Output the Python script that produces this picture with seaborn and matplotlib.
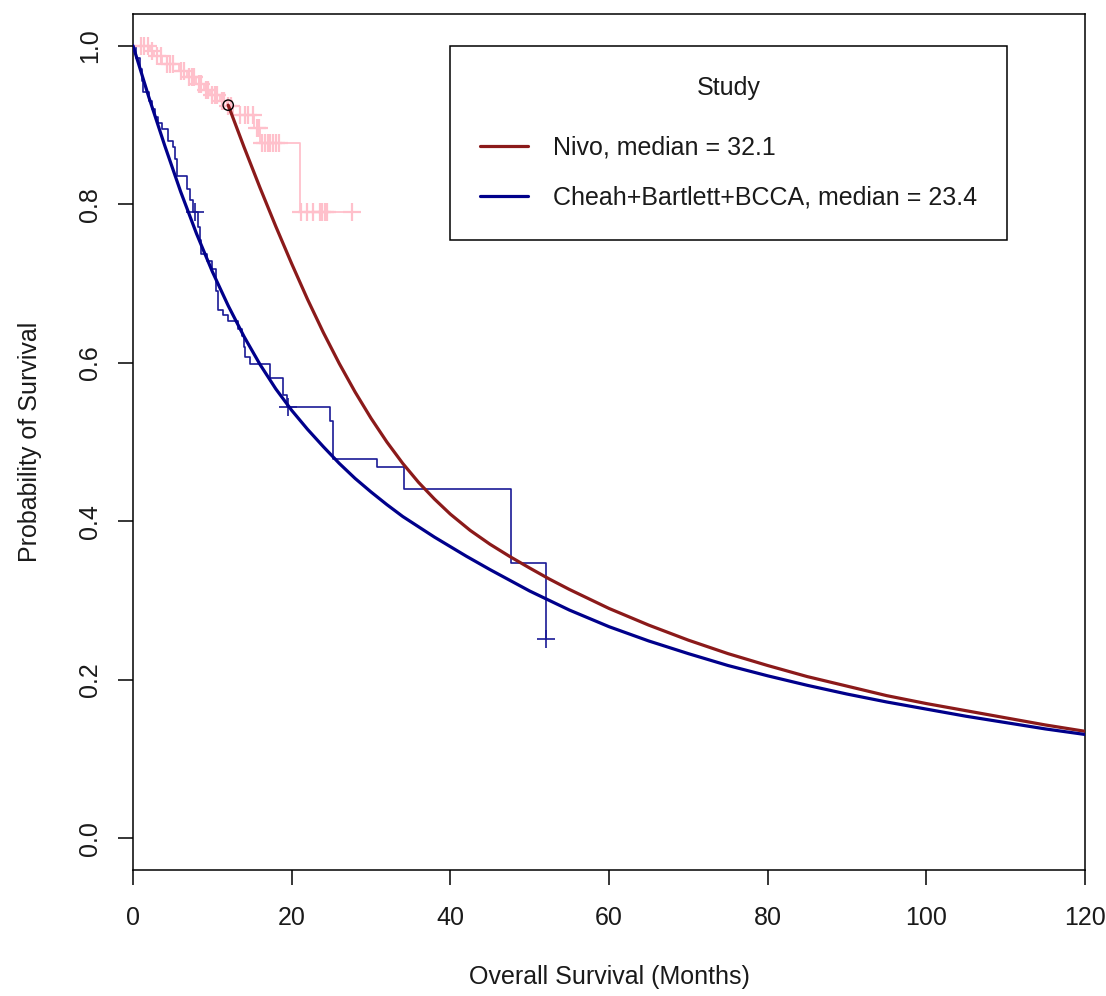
import matplotlib
matplotlib.use("Agg")
import matplotlib.pyplot as plt
import seaborn as sns
import pandas as pd

# ---------------- data ----------------
# Parametric fit, Nivo (starts at landmark month 12)
nivo_fit_t = [12, 14, 16, 18, 20, 22, 24, 26, 28, 30, 32, 34, 36, 38, 40, 42.5, 45, 47.5, 50, 52.5, 55, 57.5,
              60, 65, 70, 75, 80, 85, 90, 95, 100, 105, 110, 115, 120]
nivo_fit_s = [0.925, 0.872, 0.821, 0.772, 0.725, 0.680, 0.638, 0.599, 0.563, 0.530, 0.500, 0.473, 0.449, 0.428,
              0.409, 0.3885, 0.371, 0.3555, 0.341, 0.327, 0.314, 0.302, 0.290, 0.269, 0.250, 0.233, 0.218,
              0.204, 0.192, 0.180, 0.170, 0.161, 0.152, 0.143, 0.135]

# Parametric fit, Cheah+Bartlett+BCCA
pool_fit_t = [0, 2, 4, 6, 8, 10, 12, 14, 16, 18, 20, 22, 24, 26, 28, 30, 32, 34, 36, 38, 40, 42, 45, 50, 55,
              60, 65, 70, 75, 80, 85, 90, 95, 100, 105, 110, 115, 120]
pool_fit_s = [1.0, 0.935, 0.874, 0.816, 0.763, 0.715, 0.672, 0.633, 0.598, 0.567, 0.540, 0.516, 0.494, 0.473,
              0.454, 0.437, 0.421, 0.406, 0.393, 0.380, 0.368, 0.356, 0.339, 0.312, 0.288, 0.267, 0.249, 0.233,
              0.218, 0.205, 0.193, 0.182, 0.172, 0.163, 0.154, 0.146, 0.138, 0.131]

# Kaplan-Meier, Cheah+Bartlett+BCCA (step times / survival after step)
pool_km_t = [0, 0.4, 0.9, 1.1, 1.3, 2.0, 2.4, 2.8, 3.2, 3.6, 4.4, 5.0, 5.3, 5.6, 6.8, 7.2, 7.6, 8.2, 8.4, 8.6,
             9.3, 9.9, 10.5, 10.7, 11.4, 12.0, 13.2, 13.7, 14.0, 14.1, 14.7, 17.3, 18.9, 19.4, 24.8, 25.2,
             30.7, 34.1, 47.6, 52.0]
pool_km_s = [1.0, 0.985, 0.970, 0.956, 0.941, 0.930, 0.920, 0.910, 0.903, 0.895, 0.880, 0.872, 0.857, 0.836,
             0.819, 0.805, 0.790, 0.771, 0.755, 0.737, 0.728, 0.718, 0.691, 0.666, 0.660, 0.653, 0.643, 0.634,
             0.620, 0.607, 0.598, 0.581, 0.559, 0.544, 0.527, 0.479, 0.469, 0.441, 0.347, 0.252]
pool_cens_t = [7.8, 19.5, 52.0]
pool_cens_s = [0.790, 0.544, 0.252]

# Kaplan-Meier, Nivo observed data
nivo_km_t = [0, 2.2, 2.6, 3.7, 5.8, 6.8, 8.0, 9.0, 9.7, 11.0, 11.8, 12.6, 15.3, 16.0, 21.0, 27.6]
nivo_km_s = [1.0, 0.993, 0.987, 0.977, 0.968, 0.960, 0.952, 0.944, 0.938, 0.930, 0.924, 0.912, 0.896, 0.877,
             0.790, 0.790]
nivo_cens_t = [1.0, 1.4, 1.9, 2.4, 3.0, 3.5, 4.3, 4.7, 5.1, 6.0, 6.4, 7.0, 7.4, 7.7, 8.3, 8.6, 9.2, 9.5, 10.0,
               10.3, 10.6, 11.2, 11.5, 12.0, 12.3, 13.5, 14.1, 14.5, 15.1, 15.6, 15.9, 16.2, 16.6, 17.0, 17.3,
               17.6, 18.0, 18.4, 21.2, 21.9, 22.7, 23.6, 23.8, 24.2, 24.4, 27.6]
nivo_cens_s = [1.0, 1.0, 1.0, 0.993, 0.987, 0.987, 0.977, 0.977, 0.977, 0.968, 0.968, 0.960, 0.960, 0.960,
               0.952, 0.952, 0.944, 0.944, 0.938, 0.938, 0.938, 0.930, 0.930, 0.924, 0.924, 0.912, 0.912,
               0.912, 0.912, 0.896, 0.896, 0.877, 0.877, 0.877, 0.877, 0.877, 0.877, 0.877, 0.790, 0.790,
               0.790, 0.790, 0.790, 0.790, 0.790, 0.790]

legend_labels = ["Nivo, median = 32.1", "Cheah+Bartlett+BCCA, median = 23.4"]
legend_title = "Study"
x_ticks = [0, 20, 40, 60, 80, 100, 120]
y_ticks = [0.0, 0.2, 0.4, 0.6, 0.8, 1.0]
x_label = "Overall Survival (Months)"
y_label = "Probability of Survival"

# ---------------- style ----------------
sns.set_theme(style="white")
plt.rcParams["font.family"] = ["Liberation Sans", "DejaVu Sans"]
FS = 18
TXT = "#1a1a1a"

RED = "#8B1A1A"
BLUE = "#00008B"
BLUE_KM = "#1a1a96"
PINK = "#FFC0CB"

fig = plt.figure(figsize=(11.06, 9.96), dpi=100)
ax = fig.add_axes([133 / 1106, 126 / 996, 952 / 1106, 856 / 996])

# Nivo KM (pink)
sns.lineplot(x=nivo_km_t, y=nivo_km_s, drawstyle="steps-post", estimator=None, sort=False,
             color=PINK, linewidth=1.3, legend=False, ax=ax)
sns.scatterplot(x=nivo_cens_t, y=nivo_cens_s, marker="+", s=170, color=PINK, linewidth=1.6,
                legend=False, ax=ax, zorder=3)

# Pooled KM (thin blue)
sns.lineplot(x=pool_km_t, y=pool_km_s, drawstyle="steps-post", estimator=None, sort=False,
             color=BLUE_KM, linewidth=1.2, legend=False, ax=ax)
sns.scatterplot(x=pool_cens_t, y=pool_cens_s, marker="+", s=170, color=BLUE_KM, linewidth=1.2,
                legend=False, ax=ax, zorder=3)

# Parametric curves
df_n = pd.DataFrame({"t": nivo_fit_t, "s": nivo_fit_s})
df_p = pd.DataFrame({"t": pool_fit_t, "s": pool_fit_s})
sns.lineplot(data=df_n, x="t", y="s", estimator=None, sort=False, color=RED, linewidth=2.3,
             legend=False, ax=ax, zorder=4)
sns.lineplot(data=df_p, x="t", y="s", estimator=None, sort=False, color=BLUE, linewidth=2.3,
             legend=False, ax=ax, zorder=4)

# landmark circle at start of Nivo fit
sns.scatterplot(x=[nivo_fit_t[0]], y=[nivo_fit_s[0]], marker="o", s=55, facecolor="none",
                edgecolor="black", linewidth=1.0, legend=False, ax=ax, zorder=5)

ax.set_xlim(0, 120)
ax.set_ylim(-0.04, 1.04)
ax.set_xticks(x_ticks)
ax.set_xticklabels([str(v) for v in x_ticks])
ax.set_yticks(y_ticks)
ax.set_yticklabels([f"{v:.1f}" for v in y_ticks], rotation=90, va="center")
ax.tick_params(axis="both", which="major", direction="out", length=11, width=1.1, color="black",
               labelsize=FS, labelcolor=TXT, bottom=True, left=True)
ax.tick_params(axis="x", pad=15)
ax.tick_params(axis="y", pad=11)
ax.set_xlabel(x_label, fontsize=FS, color=TXT, labelpad=25)
ax.set_ylabel(y_label, fontsize=FS, color=TXT, labelpad=26)
for sp in ax.spines.values():
    sp.set_visible(True)
    sp.set_color("black")
    sp.set_linewidth(1.1)
ax.grid(False)

# legend
handles = [ax.lines[2], ax.lines[3]]
leg = ax.legend(handles=handles, labels=legend_labels, title=legend_title,
                loc="upper left", bbox_to_anchor=(40, 1.0), bbox_transform=ax.transData,
                borderaxespad=0, fontsize=FS, title_fontsize=FS, frameon=True, fancybox=False,
                framealpha=1, edgecolor="black", borderpad=1.2, labelspacing=1.04,
                handlelength=1.9, handletextpad=1.0)
leg._legend_box.sep = 26
leg.get_frame().set_linewidth(1.1)
for t in leg.get_texts():
    t.set_color(TXT)
leg.get_title().set_color(TXT)

fig.savefig("out.png", dpi=100)
